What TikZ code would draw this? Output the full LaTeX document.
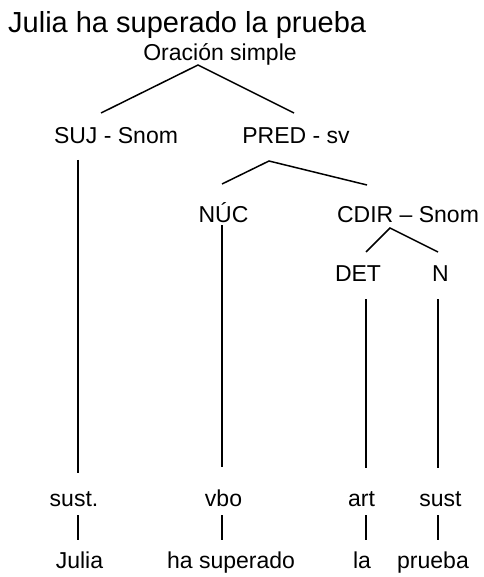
\documentclass[tikz,border=0pt]{standalone}
\usepackage{fontspec}
\setmainfont{Liberation Sans}
\begin{document}
\begin{tikzpicture}[x=1pt,y=-1pt]
    \tikzstyle{etiqueta}=[inner sep=0pt, anchor=base, font=\fontsize{23}{27}\selectfont]
    \tikzstyle{rama}=[line width=1.5pt]
    \useasboundingbox (0,0) rectangle (483,577);

    \node[etiqueta, anchor=base west, font=\fontsize{29}{34}\selectfont] (titulo) at (8,33) {Julia ha superado la prueba};
    \node[etiqueta] (oracion) at (220,61) {Oración simple};

    \node[etiqueta] (suj)  at (116,144) {SUJ - Snom};
    \node[etiqueta] (pred) at (296,144) {PRED - sv};

    \node[etiqueta] (nuc)  at (223.5,222) {NÚC};
    \node[etiqueta] (cdir) at (408,222) {CDIR – Snom};

    \node[etiqueta] (det) at (358,281) {DET};
    \node[etiqueta] (n)   at (440.5,281) {N};

    \node[etiqueta] (sust1) at (74,506)    {sust.};
    \node[etiqueta] (vbo)   at (223.5,506) {vbo};
    \node[etiqueta] (art)   at (361.5,506) {art};
    \node[etiqueta] (sust2) at (440.5,506) {sust};

    \node[etiqueta] (julia)    at (79.5,568) {Julia};
    \node[etiqueta] (ha)       at (231,568)  {ha superado};
    \node[etiqueta] (la)       at (362,568)  {la};
    \node[etiqueta] (prueba)   at (433,568)  {prueba};

    % ramas
    \coordinate (oracion-v) at (198,65);
    \coordinate (suj-a)     at (101,113);
    \coordinate (pred-a)    at (294,113);
    \draw[rama] (suj-a) -- (oracion-v) -- (pred-a);

    \coordinate (pred-v) at (269,161);
    \coordinate (nuc-a)  at (222,184);
    \coordinate (cdir-a) at (367,185);
    \draw[rama] (nuc-a) -- (pred-v) -- (cdir-a);

    \coordinate (cdir-v) at (390,228);
    \coordinate (det-a)  at (366,252);
    \coordinate (n-a)    at (438,252);
    \draw[rama] (det-a) -- (cdir-v) -- (n-a);

    % verticales
    \coordinate (suj-b)   at (78,160);
    \coordinate (sust1-a) at (78,473);
    \coordinate (nuc-b)   at (222,225);
    \coordinate (vbo-a)   at (222,467);
    \coordinate (det-b)   at (366,299);
    \coordinate (art-a)   at (366,468);
    \coordinate (n-b)     at (438,299);
    \coordinate (sust2-a) at (438,468);
    \draw[rama] (suj-b) -- (sust1-a)
                (nuc-b) -- (vbo-a)
                (det-b) -- (art-a)
                (n-b)   -- (sust2-a);

    \coordinate (sust1-b) at (78,515);
    \coordinate (julia-a) at (78,540);
    \coordinate (vbo-b)   at (222,515);
    \coordinate (ha-a)    at (222,540);
    \coordinate (art-b)   at (366,515);
    \coordinate (la-a)    at (366,540);
    \coordinate (sust2-b) at (438,515);
    \coordinate (prueba-a) at (438,540);
    \draw[rama] (sust1-b) -- (julia-a)
                (vbo-b)   -- (ha-a)
                (art-b)   -- (la-a)
                (sust2-b) -- (prueba-a);

\end{tikzpicture}
\end{document}
